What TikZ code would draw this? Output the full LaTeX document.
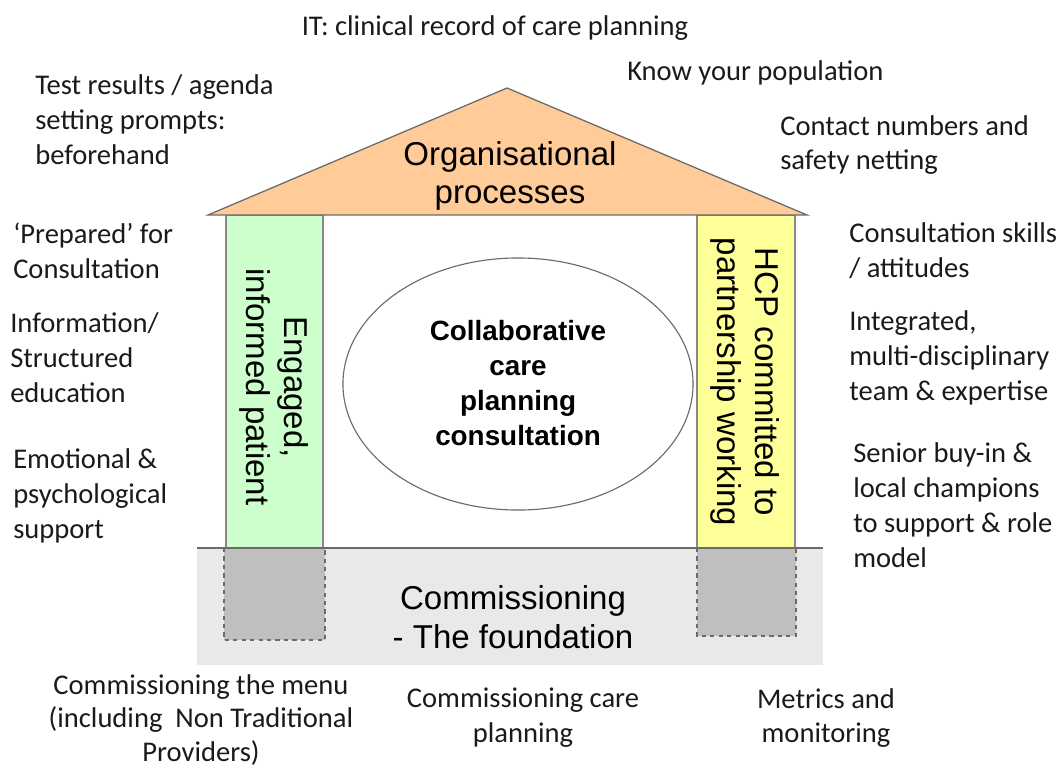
\documentclass[tikz,border=0pt]{standalone}
\usepackage{fontspec}
\setmainfont{Carlito}
\newfontfamily\arialf{Liberation Sans}
\usetikzlibrary{shapes.geometric}

\definecolor{roofpeach}{HTML}{FFCC99}
\definecolor{pillargreen}{HTML}{CCFFCC}
\definecolor{pillaryellow}{HTML}{FFFF99}
\definecolor{groundgrey}{HTML}{E9E9E9}
\definecolor{footgrey}{HTML}{BFBFBF}
\definecolor{edgegrey}{HTML}{6A6A6A}
\definecolor{inktext}{HTML}{1A1A1A}

\begin{document}
\begin{tikzpicture}[x=0.025cm,y=-0.025cm,
  lbl/.style={font=\fontsize{20.3}{24.8}\selectfont, inner sep=0pt, align=left, anchor=west, text=inktext},
  ctrlbl/.style={lbl, align=center, anchor=center},
  bigtxt/.style={font=\arialf\fontsize{23.5}{27.5}\selectfont, align=center, inner sep=0pt, text=black},
  pillar/.style={draw=edgegrey!80, line width=0.8pt},
  footing/.style={draw=edgegrey, dashed, fill=footgrey, line width=0.8pt}]

\useasboundingbox (0,0) rectangle (1064,769);

% foundation slab and the hidden pillar footings
\fill[groundgrey] (197,548) rectangle (823,665);
\path[footing] (224,548) rectangle (325,640);
\path[footing] (697,548) rectangle (796,636);

% pillars
\path[pillar, fill=pillargreen] (226,215) rectangle (323,548);
\path[pillar, fill=pillaryellow] (697,215) rectangle (795,548);
\draw[edgegrey, line width=0.9pt] (197,548) -- (823,548);

% roof
\draw[edgegrey, fill=roofpeach, line width=0.9pt] (208,215) -- (507,88) -- (807,215) -- cycle;

% central consultation
\draw[edgegrey, line width=0.8pt] (518,384) ellipse [x radius=4.375cm, y radius=3.15cm];

\node[bigtxt] (roof) at (510,176) {Organisational\\processes};
\node[bigtxt, rotate=-90] (patient) at (274,387) {Engaged,\\informed patient};
\node[bigtxt, rotate=-90] (hcp) at (745,382) {HCP committed to\\partnership working};
\node[bigtxt] (found) at (513,617) {Commissioning\\- The foundation};
\node[font=\arialf\bfseries\fontsize{19.8}{24.8}\selectfont, align=center, inner sep=0pt] (consult) at (518,383)
  {Collaborative\\care\\planning\\consultation};

% surrounding labels
\node[lbl, anchor=center] (it) at (495,28) {IT: clinical record of care planning};
\node[lbl] (pop) at (627,73) {Know your population};
\node[lbl] (test) at (35,120) {Test results / agenda\\setting prompts:\\beforehand};
\node[lbl] (contact) at (780,145) {Contact numbers and\\safety netting};
\node[lbl] (prep) at (13,251) {‘Prepared’ for\\Consultation};
\node[lbl] (info) at (10,358) {Information/\\Structured\\education};
\node[lbl] (emo) at (13,496) {Emotional \&\\psychological\\support};
\node[lbl] (skills) at (849,251) {Consultation skills\\/ attitudes};
\node[lbl] (team) at (849,358) {Integrated,\\multi-disciplinary\\team \& expertise};
\node[lbl] (senior) at (853,505) {Senior buy-in \&\\local champions\\to support \& role\\model};
\node[ctrlbl, font=\fontsize{20.3}{24}\selectfont] (menu) at (201,720) {Commissioning the menu\\(including~ Non Traditional\\Providers)};
\node[ctrlbl] (careplan) at (523,718) {Commissioning care\\planning};
\node[ctrlbl] (metrics) at (826,718) {Metrics and\\monitoring};
\end{tikzpicture}
\end{document}
